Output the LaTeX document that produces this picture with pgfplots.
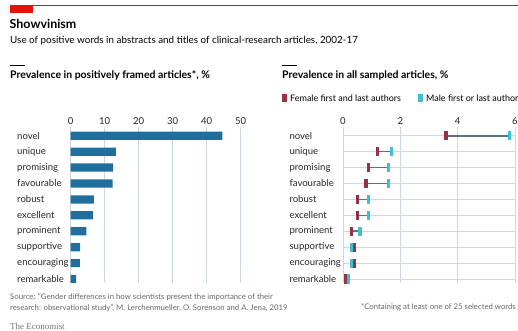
\documentclass[border=0pt]{standalone}
\usepackage{pgfplots}
\pgfplotsset{compat=1.18}
\usepackage{pgfplotstable}
\usepackage{fontspec}
\setmainfont{Lato}
\newfontfamily\serifmark{Liberation Serif}

\definecolor{econred}{HTML}{E3120B}
\definecolor{barblue}{HTML}{1F6E9E}
\definecolor{female}{HTML}{963244}
\definecolor{male}{HTML}{36C3D6}
\definecolor{connector}{HTML}{56758A}
\definecolor{gridc}{HTML}{CCD7DF}
\definecolor{zeroline}{HTML}{505050}
\definecolor{srcgrey}{HTML}{666666}

% share of positively framed articles using each word, %
\pgfplotstableread{
row word share
0 novel 44.6
1 unique 13.3
2 promising 12.5
3 favourable 12.3
4 robust 6.8
5 excellent 6.6
6 prominent 4.6
7 supportive 2.8
8 encouraging 2.7
9 remarkable 1.6
}\positive

% prevalence in all sampled articles by author gender, %
\pgfplotstableread{
row word f m
0 novel 3.59 5.80
1 unique 1.20 1.70
2 promising 0.90 1.59
3 favourable 0.80 1.59
4 robust 0.50 0.90
5 excellent 0.50 0.90
6 prominent 0.29 0.59
7 supportive 0.39 0.30
8 encouraging 0.39 0.30
9 remarkable 0.09 0.19
}\gender

\pgfplotsset{
  panel/.style={
    scale only axis,
    anchor=north west,
    y dir=reverse,
    ymin=-0.55, ymax=9.25,
    ytick={0,...,9},
    ytick style={draw=none},
    xtick style={draw=none},
    axis line style={draw=none},
    xticklabel pos=upper,
    /pgf/number format/assume math mode=true,
    every tick label/.append style={font=\fontsize{9.6}{11}\selectfont, text=black!85},
    xticklabel style={yshift=-1.5bp},
    yticklabel style={anchor=west, xshift=-57bp},
    xmajorgrids,
    major grid style={gridc, line width=0.8bp},
    extra x ticks={0},
    extra x tick style={grid style={zeroline, line width=1bp}},
  },
}

\begin{document}
\begin{tikzpicture}
\useasboundingbox (0,0) rectangle (518bp,-331bp);

% header
\fill[econred] (10bp,-5bp) rectangle (33bp,-13bp);
\fill[econred] (33bp,-5bp) rectangle (518bp,-6bp);
\node[anchor=west, font=\fontsize{12.5}{14}\selectfont\bfseries, inner sep=0] at (9.5bp,-24bp) {Showvinism};
\node[anchor=west, font=\fontsize{9.9}{11}\selectfont, inner sep=0] at (10bp,-40.5bp)
  {Use of positive words in abstracts and titles of clinical-research articles, 2002-17};

% panel headings
\draw[black, line width=0.8bp] (10bp,-65.5bp) -- (25bp,-65.5bp);
\node[anchor=west, font=\fontsize{10.5}{12}\selectfont\bfseries, inner sep=0] at (10bp,-75.5bp)
  {Prevalence in positively framed articles*, \%};
\draw[black, line width=0.8bp] (282bp,-65.5bp) -- (297bp,-65.5bp);
\node[anchor=west, font=\fontsize{10.5}{12}\selectfont\bfseries, inner sep=0] at (282bp,-75.5bp)
  {Prevalence in all sampled articles, \%};

% legend
\fill[female] (282bp,-93.5bp) rectangle (286.7bp,-102bp);
\node[anchor=west, font=\fontsize{9}{11}\selectfont, inner sep=0] at (290bp,-98bp) {Female first and last authors};
\fill[male] (418bp,-93.5bp) rectangle (422.5bp,-102bp);
\node[anchor=west, font=\fontsize{9}{11}\selectfont, inner sep=0] at (426bp,-98bp) {Male first or last author};

% left panel: bars
\begin{axis}[panel,
  at={(70.7bp,-127bp)},
  width=170bp, height=156bp,
  xmin=0, xmax=50,
  xtick={10,20,30,40,50},
  yticklabels from table={\positive}{word},
]
\addplot[xbar, bar width=8.2bp, fill=barblue, draw=none] table[x=share, y=row] {\positive};
\end{axis}

% right panel: dumbbells
\begin{axis}[panel,
  at={(343bp,-127bp)},
  width=172bp, height=156bp,
  xmin=0, xmax=6,
  xtick={2,4,6},
  ymajorgrids,
  yticklabels from table={\gender}{word},
  clip=false,
]
\addplot[draw=none, mark=none,
  error bars/.cd, x dir=plus, x explicit,
  error mark=none, error bar style={connector, line width=1.6bp}]
  table[x=f, y=row, x error expr=\thisrow{m}-\thisrow{f}] {\gender};
\addplot[only marks, mark=|, mark size=4.6bp,
  mark options={male, line width=3.2bp}] table[x=m, y=row] {\gender};
\addplot[only marks, mark=|, mark size=4.6bp,
  mark options={female, line width=3.2bp}] table[x=f, y=row] {\gender};
\end{axis}

% footer
\node[anchor=west, font=\fontsize{7.8}{9}\selectfont, text=srcgrey, inner sep=0] at (10bp,-296.7bp)
  {Source: ``Gender differences in how scientists present the importance of their};
\node[anchor=west, font=\fontsize{7.8}{9}\selectfont, text=srcgrey, inner sep=0] at (10bp,-307.7bp)
  {research: observational study'', M. Lerchenmueller, O. Sorenson and A. Jena, 2019};
\node[anchor=east, font=\fontsize{7.8}{9}\selectfont, text=srcgrey, inner sep=0] at (516bp,-307.7bp)
  {*Containing at least one of 25 selected words};
\node[anchor=west, font=\fontsize{9}{11}\selectfont\serifmark, text=black!55, inner sep=0] at (10bp,-326bp)
  {The Economist};
\end{tikzpicture}
\end{document}
